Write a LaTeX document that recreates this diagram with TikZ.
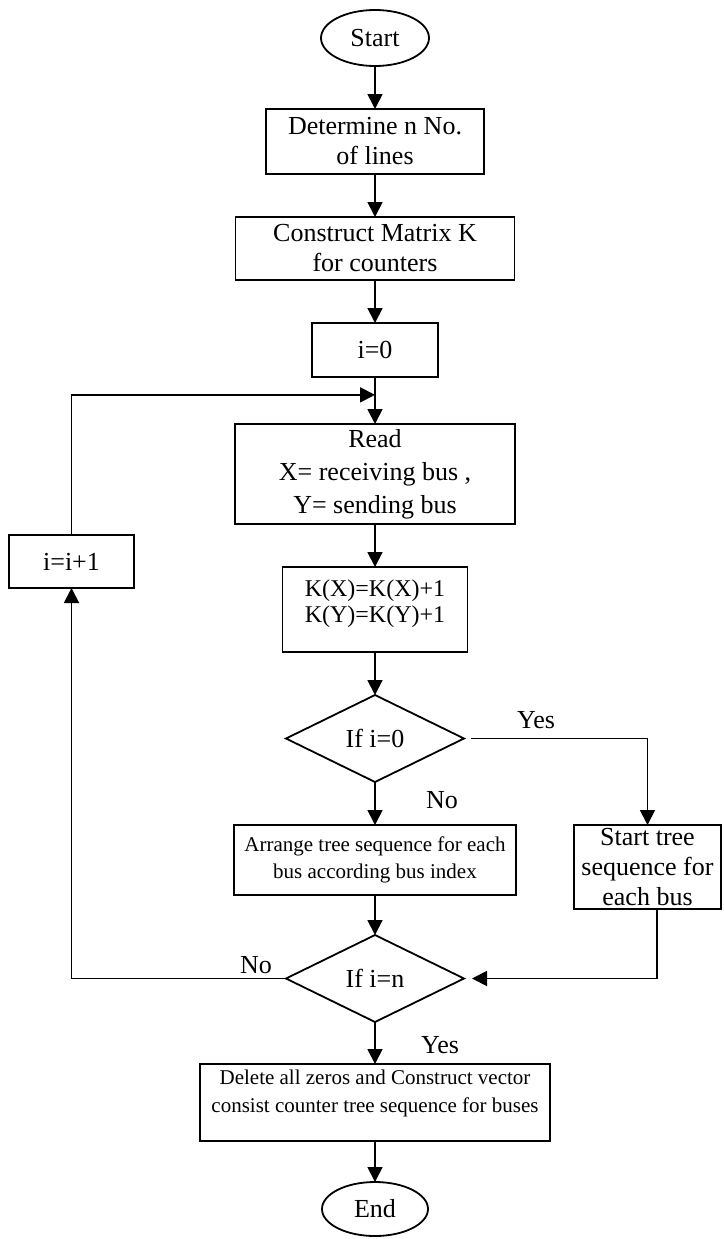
\documentclass[tikz,border=0pt]{standalone}
\usepackage{fontspec}
\setmainfont{Liberation Serif}
\usetikzlibrary{arrows.meta,positioning,shapes.geometric,calc}

\begin{document}
\begin{tikzpicture}[
    x=1pt, y=-1pt,
    node distance=43pt,
    box/.style={rectangle, draw, line width=1.8pt, inner sep=2pt, outer sep=0pt, align=center, font=\fontsize{26}{30}\selectfont},
    term/.style={ellipse, draw, line width=1.8pt, inner sep=0pt, outer sep=0pt, font=\fontsize{26}{30}\selectfont},
    decision/.style={diamond, draw, line width=1.8pt, inner sep=0pt, outer sep=0pt, aspect=2, minimum width=178pt, minimum height=87pt, font=\fontsize{26}{30}\selectfont},
    lbl/.style={inner sep=0pt, font=\fontsize{26}{30}\selectfont},
    arrow/.style={-{Triangle[length=15pt,width=15pt]}, line width=1.8pt}
]
\useasboundingbox (0,0) rectangle (723,1239);

\node[term, minimum width=108pt, minimum height=56pt] (start) at (375,38) {Start};
\node[box, below=of start, minimum width=218pt, minimum height=65pt] (det) {Determine n No.\\of lines};
\node[box, below=of det, minimum width=279pt, minimum height=63pt] (mat) {Construct Matrix K\\for counters};
\node[box, below=of mat, minimum width=126pt, minimum height=54pt] (ini) {i=0};
\node[box, below=47pt of ini, minimum width=280pt, minimum height=100pt, font=\fontsize{26}{33}\selectfont] (read) {Read\\X= receiving bus ,\\Y= sending bus};
\node[box, below=of read, minimum width=185pt, minimum height=85pt, align=left, font=\fontsize{24}{26}\selectfont] (kbox) {K(X)=K(X)+1\\K(Y)=K(Y)+1\\[-9pt]\mbox{}};
\node[decision, below=of kbox] (ifz) {If i=0};
\node[box, below=of ifz, minimum width=282pt, minimum height=70pt, font=\fontsize{21}{27}\selectfont] (arr) {Arrange tree sequence for each\\bus according bus index};
\node[decision, below=40pt of arr] (ifn) {If i=n};
\node[box, below=42pt of ifn, minimum width=350pt, minimum height=77pt, font=\fontsize{21}{28}\selectfont] (del) {Delete all zeros and Construct vector\\consist counter tree sequence for buses\\[-6pt]\mbox{}};
\node[term, below=41pt of del, minimum width=106pt, minimum height=54pt] (stop) {End};

\node[box, right=58pt of arr.north east, anchor=north west, minimum width=147pt, minimum height=84pt] (seq) {Start tree\\sequence for\\each bus};
\node[box, minimum width=125pt, minimum height=53pt] (inc) at (71.5,561.5) {i=i+1};

\coordinate (join) at ($(ini.south)!0.38!(read.north)$);

\node[lbl] (yes1) at ($(ifz.east)+(72,-18)$) {Yes};
\node[lbl] (no1) at ($(ifz.south)+(67,18)$) {No};
\node[lbl] (no2) at ($(ifn.west)+(-30,-13)$) {No};
\node[lbl] (yes2) at ($(ifn.south)+(65,23)$) {Yes};

\draw[arrow] (start) -- (det);
\draw[arrow] (det) -- (mat);
\draw[arrow] (mat) -- (ini);
\draw[arrow] (ini) -- (read);
\draw[arrow] (read) -- (kbox);
\draw[arrow] (kbox) -- (ifz);
\draw[arrow] (ifz) -- (arr);
\draw[arrow] (arr) -- (ifn);
\draw[arrow] (ifn) -- (del);
\draw[arrow] (del) -- (stop);

\draw[arrow, shorten <=7pt] (ifz.east) -| (seq.north);
\draw[arrow, shorten >=8pt] ([xshift=9.5pt]seq.south) |- (ifn.east);
\draw[arrow] (ifn.west) -| (inc.south);
\draw[arrow] (inc.north) |- (join);
\end{tikzpicture}
\end{document}
